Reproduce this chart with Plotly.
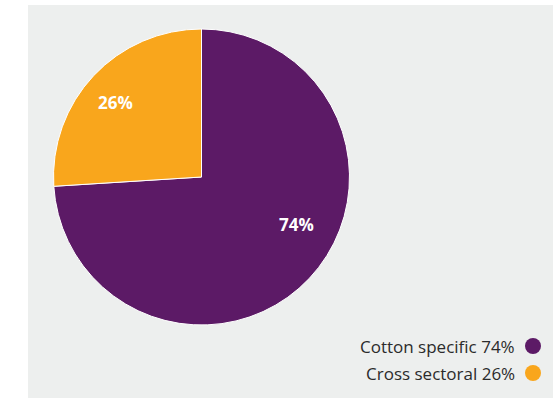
import plotly.graph_objects as go

labels = ["Cotton specific", "Cross sectoral"]
values = [74, 26]
colors = ["#5c1a66", "#f9a61c"]

W, H = 553, 398
cx, cy, R = 201.5, 177, 148

fig = go.Figure(go.Pie(
    labels=labels, values=values, sort=False, direction="clockwise", rotation=0,
    marker=dict(colors=colors, line=dict(color="white", width=1)),
    textinfo="none", hoverinfo="label+percent", showlegend=False,
    domain=dict(x=[(cx - R) / W, (cx + R) / W], y=[(H - cy - R) / H, (H - cy + R) / H]),
))

# in-slice percentage labels
label_pos = [(296, 225), (115, 102)]
for v, (px, py) in zip(values, label_pos):
    fig.add_annotation(x=px / W, y=1 - py / H, xref="paper", yref="paper",
                       xanchor="center", yanchor="middle",
                       text=f"<b>{v}%</b>", showarrow=False,
                       font=dict(family="Open Sans", size=17, color="white"))

# custom legend: text right-aligned, dot on right
leg_y = [346, 373]
for lab, v, c, ly in zip(labels, values, colors, leg_y):
    fig.add_annotation(x=517 / W, y=1 - ly / H, xref="paper", yref="paper",
                       xanchor="right", yanchor="middle", showarrow=False,
                       text=f"{lab} {v}%",
                       font=dict(family="Open Sans", size=17, color="#2b2b2b"))
    fig.add_shape(type="circle", xref="paper", yref="paper",
                  xsizemode="pixel", ysizemode="pixel",
                  xanchor=533 / W, yanchor=1 - ly / H,
                  x0=-8, x1=8, y0=-8, y1=8,
                  fillcolor=c, line=dict(width=0))

fig.add_shape(type="rect", xref="paper", yref="paper",
              x0=28 / W, x1=1, y0=0, y1=1 - 5 / H,
              fillcolor="#edefee", line=dict(width=0), layer="below")

fig.update_layout(width=W, height=H, margin=dict(l=0, r=0, t=0, b=0),
                  paper_bgcolor="white", plot_bgcolor="white")
fig.write_html("out.html")
